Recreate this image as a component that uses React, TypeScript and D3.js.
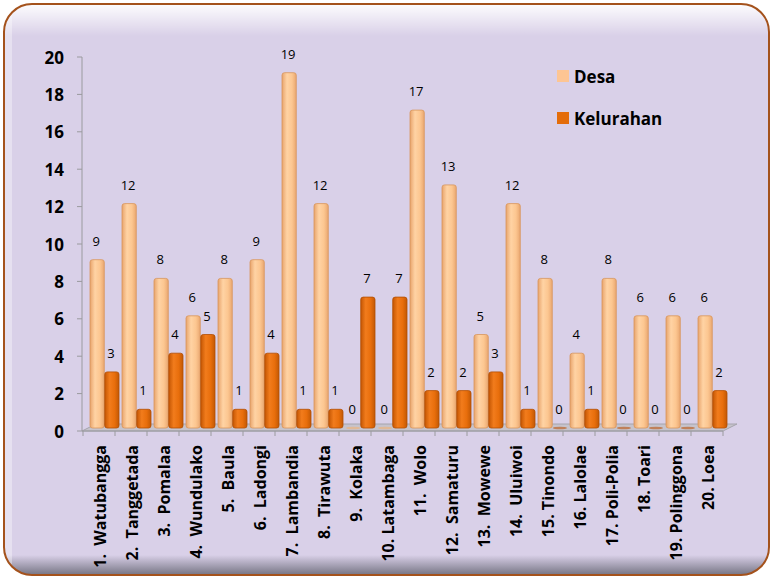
import React, { useEffect, useRef } from "react";
import * as d3 from "d3";

const categories = [
  "1.  Watubangga", "2.  Tanggetada", "3.  Pomalaa", "4.  Wundulako", "5.  Baula",
  "6.  Ladongi", "7.  Lambandia", "8.  Tirawuta", "9.  Kolaka", "10. Latambaga",
  "11.  Wolo", "12.  Samaturu", "13.  Mowewe", "14.  Uluiwoi", "15. Tinondo",
  "16. Lalolae", "17. Poli-Polia", "18. Toari", "19. Polinggona", "20. Loea",
];
const desa = [9, 12, 8, 6, 8, 9, 19, 12, 0, 0, 17, 13, 5, 12, 8, 4, 8, 6, 6, 6];
const kelurahan = [3, 1, 4, 5, 1, 4, 1, 1, 7, 7, 2, 2, 3, 1, 0, 1, 0, 0, 0, 2];
const seriesNames = ["Desa", "Kelurahan"];
const yTicks = [0, 2, 4, 6, 8, 10, 12, 14, 16, 18, 20];

const W = 772, H = 578;

function App() {
  const ref = useRef(null);

  useEffect(() => {
    const svg = d3.select(ref.current);
    svg.selectAll("*").remove();

    // frame
    const defs = svg.append("defs");
    const topGlow = defs.append("linearGradient").attr("id", "topGlow").attr("x1", 0).attr("y1", 0).attr("x2", 0).attr("y2", 1);
    topGlow.append("stop").attr("offset", "0%").attr("stop-color", "#ffffff").attr("stop-opacity", 0.95);
    topGlow.append("stop").attr("offset", "100%").attr("stop-color", "#ffffff").attr("stop-opacity", 0);
    const botShade = defs.append("linearGradient").attr("id", "botShade").attr("x1", 0).attr("y1", 0).attr("x2", 0).attr("y2", 1);
    botShade.append("stop").attr("offset", "0%").attr("stop-color", "#6a6a78").attr("stop-opacity", 0);
    botShade.append("stop").attr("offset", "100%").attr("stop-color", "#6a6a78").attr("stop-opacity", 0.9);
    defs.append("clipPath").attr("id", "frameClip")
      .append("rect").attr("x", 4).attr("y", 4).attr("width", 765).attr("height", 571).attr("rx", 28);

    const barGrad = (id, stops) => {
      const g = defs.append("linearGradient").attr("id", id).attr("x1", 0).attr("y1", 0).attr("x2", 1).attr("y2", 0);
      stops.forEach(([o, c]) => g.append("stop").attr("offset", o).attr("stop-color", c));
    };
    barGrad("gDesa", [["0%", "#e8a46c"], ["35%", "#ffd3a4"], ["70%", "#fcc690"], ["100%", "#e9a770"]]);
    barGrad("gKel", [["0%", "#c45603"], ["35%", "#f27c1c"], ["70%", "#e86e0c"], ["100%", "#c25804"]]);

    svg.append("rect").attr("x", 4).attr("y", 4).attr("width", 765).attr("height", 571).attr("rx", 28)
      .attr("fill", "#d9d0e8");
    const fr = svg.append("g").attr("clip-path", "url(#frameClip)");
    fr.append("rect").attr("x", 4).attr("y", 4).attr("width", 765).attr("height", 32).attr("fill", "url(#topGlow)");
    fr.append("rect").attr("x", 4).attr("y", 555).attr("width", 765).attr("height", 20).attr("fill", "url(#botShade)");
    fr.append("rect").attr("x", 4).attr("y", 4).attr("width", 8).attr("height", 571).attr("fill", "#ffffff").attr("opacity", 0.35);
    svg.append("rect").attr("x", 4).attr("y", 4).attr("width", 765).attr("height", 571).attr("rx", 28)
      .attr("fill", "none").attr("stroke", "#a4521c").attr("stroke-width", 2);

    // scales
    const x = d3.scaleBand().domain(categories).range([83, 723]);
    const xs = d3.scaleBand().domain(seriesNames).range([7, 36]).paddingInner(0.03);
    const y = d3.scaleLinear().domain([0, 20]).range([431, 57]);
    const lift = 3;

    // floor
    svg.append("polygon")
      .attr("points", `82,${y(0)} 723,${y(0)} 737,${y(0) - 7} 96,${y(0) - 7}`)
      .attr("fill", "#c6c3cc").attr("stroke", "#a6a4ac").attr("stroke-width", 1);

    // y axis
    const ya = svg.append("g").attr("font-family", "Open Sans").attr("font-weight", "bold").attr("font-size", 17);
    ya.append("line").attr("x1", 82).attr("x2", 82).attr("y1", y(20)).attr("y2", y(0)).attr("stroke", "#9a9a9e");
    ya.selectAll("line.t").data(yTicks).join("line").attr("class", "t")
      .attr("x1", 77).attr("x2", 82).attr("y1", (d) => y(d)).attr("y2", (d) => y(d)).attr("stroke", "#9a9a9e");
    ya.selectAll("text").data(yTicks).join("text")
      .attr("x", 64).attr("y", (d) => y(d)).attr("text-anchor", "end").attr("dominant-baseline", "central")
      .attr("fill", "#000").text((d) => d);

    // x axis
    const xa = svg.append("g");
    xa.append("line").attr("x1", 82).attr("x2", 723).attr("y1", y(0)).attr("y2", y(0)).attr("stroke", "#9a9a9e");
    xa.selectAll("line.t").data([...categories.map((c) => x(c)), 723]).join("line").attr("class", "t")
      .attr("x1", (d) => d).attr("x2", (d) => d).attr("y1", y(0)).attr("y2", y(0) + 5).attr("stroke", "#9a9a9e");
    xa.selectAll("text").data(categories).join("text")
      .attr("transform", (d) => `translate(${x(d) + x.bandwidth() / 2 + 1},445) rotate(-90)`)
      .attr("text-anchor", "end").attr("dominant-baseline", "central")
      .attr("font-family", "Open Sans").attr("font-weight", "bold").attr("font-size", 16)
      .attr("fill", "#000").style("white-space", "pre").text((d) => d);

    // bars
    const rows = categories.flatMap((c, i) => [
      { c, s: "Desa", v: desa[i] },
      { c, s: "Kelurahan", v: kelurahan[i] },
    ]);
    const bx = (d) => x(d.c) + xs(d.s);
    const bw = xs.bandwidth();
    const bars = svg.append("g");
    bars.selectAll("rect").data(rows.filter((d) => d.v > 0)).join("rect")
      .attr("x", bx).attr("width", bw)
      .attr("y", (d) => y(d.v) - lift).attr("height", (d) => y(0) - y(d.v))
      .attr("rx", 2.5)
      .attr("fill", (d) => (d.s === "Desa" ? "url(#gDesa)" : "url(#gKel)"))
      .attr("stroke", (d) => (d.s === "Desa" ? "#d8965c" : "#b24e02")).attr("stroke-width", 0.8);
    bars.selectAll("ellipse").data(rows.filter((d) => d.v === 0)).join("ellipse")
      .attr("cx", (d) => bx(d) + bw / 2).attr("cy", y(0) - lift).attr("rx", bw / 2).attr("ry", 1.3)
      .attr("fill", (d) => (d.s === "Desa" ? "#e0b896" : "#c0805a"));

    // value labels
    svg.append("g").selectAll("text").data(rows).join("text")
      .attr("x", (d) => bx(d) + bw / 2 - 1).attr("y", (d) => y(d.v) - lift - 19)
      .attr("text-anchor", "middle").attr("dominant-baseline", "central")
      .attr("font-family", "Open Sans").attr("font-size", 13).attr("fill", "#000")
      .text((d) => d.v);

    // legend
    const lg = svg.append("g").attr("font-family", "Open Sans").attr("font-weight", "bold").attr("font-size", 17);
    lg.selectAll("rect").data(seriesNames).join("rect")
      .attr("x", 557).attr("y", (d, i) => 70 + i * 42).attr("width", 12).attr("height", 12)
      .attr("fill", (d) => (d === "Desa" ? "#fdc593" : "#e46c0a"));
    lg.selectAll("text").data(seriesNames).join("text")
      .attr("x", 574).attr("y", (d, i) => 76 + i * 42).attr("dominant-baseline", "central")
      .attr("fill", "#000").text((d) => d);
  }, []);

  return (
    <svg ref={ref} width={W} height={H} style={{ position: "absolute", left: 0, top: 0 }} />
  );
}

export default App;
